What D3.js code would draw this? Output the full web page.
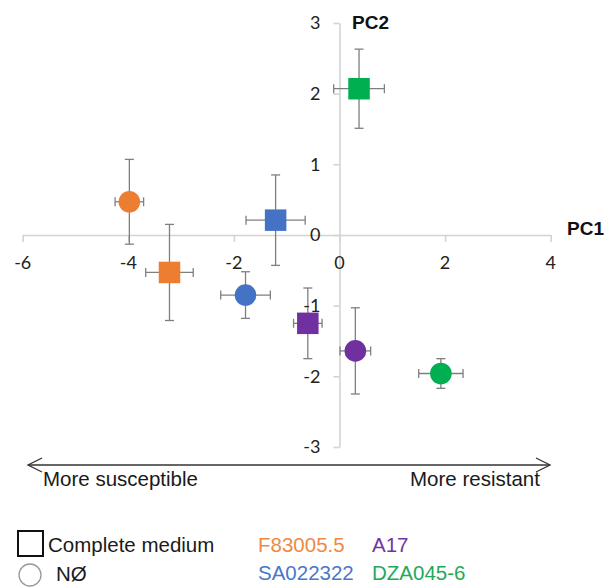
<!DOCTYPE html>
<html>
<head>
<meta charset="utf-8">
<script src="https://cdn.jsdelivr.net/npm/d3@7"></script>
<style>
  body { margin: 0; background: #fff; }
  svg { display: block; }
  .tick-label { font-family: Lato, "Open Sans", sans-serif; font-size: 18px; fill: #222; }
  .axis-title { font-family: "Liberation Sans", Arial, sans-serif; font-size: 19px; font-weight: bold; fill: #111; }
  .note { font-family: "Liberation Sans", Arial, sans-serif; font-size: 20.5px; fill: #1a1a1a; }
</style>
</head>
<body>
<div id="chart"></div>
<script>
// strains and their colours
const strains = ["F83005.5", "SA022322", "A17", "DZA045-6"];
const strainColors = ["#ED7D31", "#4472C4", "#7030A0", "#00B050"];
const legendTextColors = ["#EE8A45", "#4A78C8", "#7335A2", "#1EAA5A"];

// PCA scores, complete medium (squares)
const completePC1 = [-3.22, -1.21, -0.60, 0.37];
const completePC2 = [-0.53, 0.21, -1.25, 2.07];
const completeErr1 = [0.45, 0.56, 0.27, 0.48];
const completeErr2 = [0.68, 0.64, 0.50, 0.56];

// PCA scores, N-free medium (circles)
const noNPC1 = [-3.98, -1.78, 0.30, 1.92];
const noNPC2 = [0.47, -0.85, -1.64, -1.96];
const noNErr1 = [0.27, 0.47, 0.29, 0.42];
const noNErr2 = [0.60, 0.33, 0.61, 0.21];

const xTicks = [-6, -4, -2, 0, 2, 4];
const yTicks = [-3, -2, -1, 0, 1, 2, 3];

const W = 605, H = 588;
const svg = d3.select("#chart").append("svg").attr("width", W).attr("height", H);

const x = d3.scaleLinear().domain([-6, 4]).range([22.7, 550.7]);
const y = d3.scaleLinear().domain([-3, 3]).range([447, 23]);

function buildPoints(shape, pc1, pc2, e1, e2) {
    return strains.map((s, i) => ({
        strain: s, shape: shape, color: strainColors[i],
        x: pc1[i], y: pc2[i], ex: e1[i], ey: e2[i]
    }));
}
const points = buildPoints("square", completePC1, completePC2, completeErr1, completeErr2)
    .concat(buildPoints("circle", noNPC1, noNPC2, noNErr1, noNErr2));

// axes
const axisColor = "#d3d3d3";
const xAxis = svg.append("g")
    .attr("transform", `translate(0,${y(0)})`)
    .call(d3.axisBottom(x).tickValues(xTicks).tickSize(7).tickSizeOuter(0).tickFormat(d => String(d)));
const yAxis = svg.append("g")
    .attr("transform", `translate(${x(0)},0)`)
    .call(d3.axisLeft(y).tickValues(yTicks).tickSize(6).tickSizeOuter(0).tickFormat(d => String(d)));

[xAxis, yAxis].forEach(ax => {
    ax.select(".domain").attr("stroke", axisColor).attr("stroke-width", 1.6);
    ax.selectAll(".tick line").attr("stroke", axisColor).attr("stroke-width", 1.6);
    ax.selectAll(".tick text").remove();
});

// error bars
const capHalf = 4.5;
const errG = svg.append("g").attr("stroke", "#7f7f7f").attr("stroke-width", 1.3).attr("fill", "none");
points.forEach(p => {
    const cx = x(p.x), cy = y(p.y);
    const x0 = x(p.x - p.ex), x1 = x(p.x + p.ex);
    const y0 = y(p.y - p.ey), y1 = y(p.y + p.ey);
    errG.append("line").attr("x1", x0).attr("x2", x1).attr("y1", cy).attr("y2", cy);
    errG.append("line").attr("x1", x0).attr("x2", x0).attr("y1", cy - capHalf).attr("y2", cy + capHalf);
    errG.append("line").attr("x1", x1).attr("x2", x1).attr("y1", cy - capHalf).attr("y2", cy + capHalf);
    errG.append("line").attr("x1", cx).attr("x2", cx).attr("y1", y0).attr("y2", y1);
    errG.append("line").attr("x1", cx - capHalf).attr("x2", cx + capHalf).attr("y1", y0).attr("y2", y0);
    errG.append("line").attr("x1", cx - capHalf).attr("x2", cx + capHalf).attr("y1", y1).attr("y2", y1);
});

// markers
const sq = 21.5, rad = 10.8;
svg.selectAll(".sq")
    .data(points.filter(p => p.shape === "square"))
    .enter().append("rect")
    .attr("x", d => x(d.x) - sq / 2)
    .attr("y", d => y(d.y) - sq / 2)
    .attr("width", sq).attr("height", sq)
    .attr("fill", d => d.color);
svg.selectAll(".ci")
    .data(points.filter(p => p.shape === "circle"))
    .enter().append("circle")
    .attr("cx", d => x(d.x))
    .attr("cy", d => y(d.y))
    .attr("r", rad)
    .attr("fill", d => d.color);

// tick labels on top of marks
svg.append("g").selectAll("text")
    .data(xTicks).enter().append("text")
    .attr("class", "tick-label")
    .attr("x", d => x(d))
    .attr("y", y(0) + 28)
    .attr("dy", "0.35em")
    .attr("text-anchor", "middle")
    .text(d => String(d));
svg.append("g").selectAll("text")
    .data(yTicks).enter().append("text")
    .attr("class", "tick-label")
    .attr("x", x(0) - 19)
    .attr("y", d => y(d))
    .attr("dy", "0.35em")
    .attr("text-anchor", "end")
    .text(d => String(d));

svg.append("text").attr("class", "axis-title").attr("x", 567).attr("y", y(0) - 7).attr("dy", "0.35em").text("PC1");
svg.append("text").attr("class", "axis-title").attr("x", 352).attr("y", 22).attr("dy", "0.35em").text("PC2");

// susceptibility arrow
const arrowY = 465, ax0 = 28, ax1 = 550;
const arrow = svg.append("g").attr("stroke", "#333").attr("stroke-width", 1.3).attr("fill", "none");
arrow.append("line").attr("x1", ax0).attr("x2", ax1).attr("y1", arrowY).attr("y2", arrowY);
arrow.append("path").attr("d", `M${ax0 + 14},${arrowY - 7}L${ax0},${arrowY}L${ax0 + 14},${arrowY + 7}`);
arrow.append("path").attr("d", `M${ax1 - 14},${arrowY - 7}L${ax1},${arrowY}L${ax1 - 14},${arrowY + 7}`);
svg.append("text").attr("class", "note").attr("x", 43).attr("y", 486).text("More susceptible");
svg.append("text").attr("class", "note").attr("x", 410).attr("y", 486).text("More resistant");

// legend: shapes
svg.append("rect").attr("x", 18).attr("y", 531).attr("width", 25).attr("height", 25)
    .attr("fill", "none").attr("stroke", "#111").attr("stroke-width", 2);
svg.append("text").attr("class", "note").attr("x", 48).attr("y", 552).text("Complete medium");
svg.append("circle").attr("cx", 30).attr("cy", 575).attr("r", 11)
    .attr("fill", "none").attr("stroke", "#999").attr("stroke-width", 1.3);
svg.append("text").attr("class", "note").attr("x", 56).attr("y", 581).text("NØ");

// legend: strain names
const legendPos = [[258, 552], [258, 580], [372, 552], [372, 580]];
svg.append("g").selectAll("text")
    .data(strains).enter().append("text")
    .attr("class", "note")
    .attr("x", (d, i) => legendPos[i][0])
    .attr("y", (d, i) => legendPos[i][1])
    .style("fill", (d, i) => legendTextColors[i])
    .text(d => d);
</script>
</body>
</html>
